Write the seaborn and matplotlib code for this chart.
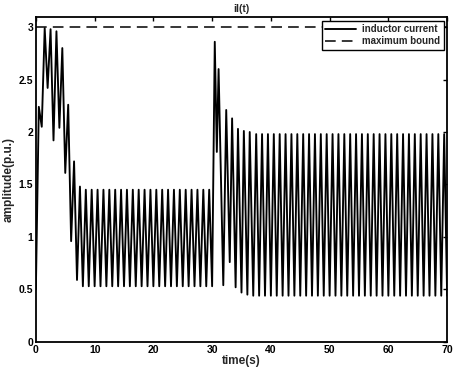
import numpy as np
import pandas as pd
import matplotlib
matplotlib.use("Agg")
import matplotlib.pyplot as plt
import seaborn as sns

# ---- data ----
t_start = [0, 0.5, 1, 1.5, 2, 2.5, 3, 3.5, 4, 4.5, 5, 5.5, 6, 6.5, 7, 7.5, 8]
i_start = [0.50, 2.24, 2.05, 2.99, 2.42, 2.98, 1.92, 2.96, 2.04, 2.80,
           1.61, 2.26, 0.96, 1.72, 0.59, 1.48, 0.53]

t_hold1 = np.arange(8.5, 30.01, 0.5)
i_hold1 = [1.45, 0.53, 1.45, 0.53, 1.45, 0.53, 1.45, 0.53, 1.45, 0.53, 1.45,
           0.53, 1.45, 0.53, 1.45, 0.53, 1.45, 0.53, 1.45, 0.53, 1.45, 0.53,
           1.45, 0.53, 1.45, 0.53, 1.45, 0.53, 1.45, 0.53, 1.45, 0.53, 1.45,
           0.53, 1.45, 0.53, 1.45, 0.53, 1.45, 0.53, 1.45, 0.53, 1.45, 0.53]

t_step = [30.45, 30.8, 31.1, 31.9, 32.4, 33.0, 33.4, 34.0, 34.4, 35.0,
          35.4, 36.0, 36.4, 37.0]
i_step = [2.86, 1.81, 2.60, 0.54, 2.21, 0.76, 2.13, 0.52, 2.03, 0.47,
          2.01, 0.45, 2.00, 0.44]

t_hold2 = np.arange(37.5, 70.01, 0.5)
i_hold2 = [1.98, 0.44, 1.98, 0.44, 1.98, 0.44, 1.98, 0.44, 1.98, 0.44, 1.98,
           0.44, 1.98, 0.44, 1.98, 0.44, 1.98, 0.44, 1.98, 0.44, 1.98, 0.44,
           1.98, 0.44, 1.98, 0.44, 1.98, 0.44, 1.98, 0.44, 1.98, 0.44, 1.98,
           0.44, 1.98, 0.44, 1.98, 0.44, 1.98, 0.44, 1.98, 0.44, 1.98, 0.44,
           1.98, 0.44, 1.98, 0.44, 1.98, 0.44, 1.98, 0.44, 1.98, 0.44, 1.98,
           0.44, 1.98, 0.44, 1.98, 0.44, 1.98, 0.44, 1.98, 0.44, 1.98, 0.44]

bound_t = [0, 70]
bound_v = [3.0, 3.0]

x_ticks = [0, 10, 20, 30, 40, 50, 60, 70]
y_ticks = [0, 0.5, 1, 1.5, 2, 2.5, 3]
y_tick_labels = ["0", "0.5", "1", "1.5", "2", "2.5", "3"]

# ---- build frames ----
cur = pd.DataFrame({
    "t": list(t_start) + list(t_hold1) + list(t_step) + list(t_hold2),
    "i": list(i_start) + list(i_hold1) + list(i_step) + list(i_hold2),
})
bnd = pd.DataFrame({"t": bound_t, "v": bound_v})

sns.set_style("white")
plt.rcParams["font.family"] = ["Liberation Sans", "DejaVu Sans"]
plt.rcParams["font.weight"] = "bold"

fig = plt.figure(figsize=(4.6, 3.72), dpi=100)
ax = fig.add_axes([0.078, 0.081, 0.894, 0.873])

sns.lineplot(data=cur, x="t", y="i", ax=ax, color="black", lw=1.35,
             sort=False, estimator=None, label="inductor current")
sns.lineplot(data=bnd, x="t", y="v", ax=ax, color="black", lw=1.1,
             sort=False, estimator=None, label="maximum bound")
ax.lines[1].set_dashes((7, 4))

ax.set_xlim(0, 70)
ax.set_ylim(0, 3.095)
ax.set_xticks(x_ticks)
ax.set_xticklabels([str(v) for v in x_ticks])
ax.set_yticks(y_ticks)
ax.set_yticklabels(y_tick_labels)
ax.tick_params(direction="in", length=3, width=1, top=True, right=True,
               labelsize=7.5, pad=2, colors="black")
for lab in ax.get_xticklabels() + ax.get_yticklabels():
    lab.set_fontweight("bold")
for s in ax.spines.values():
    s.set_visible(True)
    s.set_color("black")
    s.set_linewidth(1.3)

ax.set_xlabel("time(s)", fontsize=8.5, fontweight="bold", labelpad=0)
ax.set_ylabel("amplitude(p.u.)", fontsize=8.5, fontweight="bold", labelpad=3)
ax.set_title("il(t)", fontsize=7.5, fontweight="bold", pad=4)

leg = ax.legend(loc="upper right", fancybox=False, edgecolor="black",
                framealpha=1, prop={"size": 7, "weight": "bold"},
                borderaxespad=0.35, handlelength=3.2, borderpad=0.35,
                labelspacing=0.25, handletextpad=0.6)
leg.get_frame().set_linewidth(1.0)

fig.savefig("out.png", dpi=100)
